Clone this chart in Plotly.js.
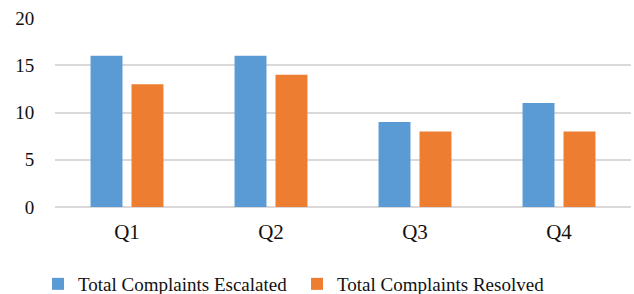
<!DOCTYPE html>
<html>
<head>
<meta charset="utf-8">
<script src="https://cdn.plot.ly/plotly-3.0.1.min.js"></script>
<style>html,body{margin:0;padding:0;background:#fff;}#chart{width:634px;height:294px;}</style>
</head>
<body>
<div id="chart"></div>
<script>
const categories = ["Q1", "Q2", "Q3", "Q4"];
const escalated = [16, 16, 9, 11];
const resolved = [13, 14, 8, 8];
const seriesNames = ["Total Complaints Escalated", "Total Complaints Resolved"];
const yTicks = [0, 5, 10, 15, 20];

const font = "Liberation Serif";
const data = [
  {type: "bar", x: categories, y: escalated, name: seriesNames[0], marker: {color: "#5B9BD5"}, hoverinfo: "none"},
  {type: "bar", x: categories, y: resolved, name: seriesNames[1], marker: {color: "#ED7D31"}, hoverinfo: "none"}
];
const layout = {
  width: 634, height: 294,
  margin: {l: 55, r: 3, t: 18, b: 87, pad: 0},
  paper_bgcolor: "#fff", plot_bgcolor: "#fff",
  font: {family: font, size: 19, color: "#111111"},
  barmode: "group", bargap: 0.431, bargroupgap: 0.22,
  xaxis: {type: "category", showgrid: false, showline: false, zeroline: false,
          ticks: "outside", ticklen: 6, tickcolor: "rgba(0,0,0,0)", tickfont: {size: 21, family: font, color: "#111111"}},
  yaxis: {range: [0, 20], tickvals: yTicks, showgrid: true, gridcolor: "#D9D9D9", gridwidth: 2,
          zeroline: true, zerolinecolor: "#D9D9D9", zerolinewidth: 2, showline: false,
          ticks: "outside", ticklen: 16, tickcolor: "rgba(0,0,0,0)", tickfont: {size: 19, family: font, color: "#111111"}},
  showlegend: true,
  legend: {orientation: "h", xref: "container", yref: "container", x: 0.4685, xanchor: "center", y: 0.034, yanchor: "middle",
           font: {size: 19, family: font, color: "#111111"}, entrywidth: 214, entrywidthmode: "pixels", traceorder: "normal"}
};
Plotly.newPlot("chart", data, layout, {staticPlot: true, displayModeBar: false});
</script>
</body>
</html>
